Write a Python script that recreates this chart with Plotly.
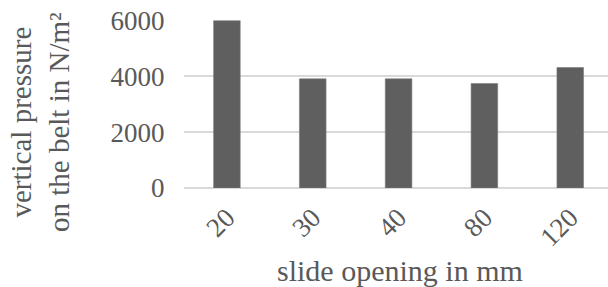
import plotly.graph_objects as go

categories = ["20", "30", "40", "80", "120"]
pressure = [6000, 3915, 3915, 3745, 4320]
y_ticks = [0, 2000, 4000, 6000]

FONT = "Liberation Serif, Times New Roman, serif"
GRAY = "#595959"
FS_TICK = 27
FS_TITLE = 29

fig = go.Figure(go.Bar(
    x=categories, y=pressure,
    marker=dict(color="#5f5f5f", line=dict(color="#7a7a7a", width=0.6)),
    width=0.31,
))

fig.update_layout(
    width=608, height=287,
    margin=dict(l=184, r=0, t=20, b=99, autoexpand=False),
    paper_bgcolor="white", plot_bgcolor="white",
    font=dict(family=FONT, size=FS_TICK, color=GRAY),
    showlegend=False,
    xaxis=dict(
        type="category", range=[-0.5, 4.44], automargin=False,
        tickangle=-45, ticks="outside", ticklen=2, tickcolor="rgba(0,0,0,0)",
        showgrid=False, showline=False, zeroline=False,
        tickfont=dict(family=FONT, size=FS_TICK, color=GRAY),
    ),
    yaxis=dict(
        range=[0, 6025], tickvals=y_ticks, automargin=False,
        ticks="outside", ticklen=13, tickcolor="rgba(0,0,0,0)",
        showgrid=True, gridcolor="#d9d9d9", gridwidth=2,
        zeroline=True, zerolinecolor="#d9d9d9", zerolinewidth=2,
        showline=False,
        tickfont=dict(family=FONT, size=FS_TICK, color=GRAY),
    ),
    annotations=[
        dict(text="vertical pressure<br>on the belt in N/m²", textangle=-90,
             xref="paper", yref="paper", x=(40 - 184) / 424, y=(287 - 99 - 122) / 168,
             xanchor="center", yanchor="middle", showarrow=False,
             font=dict(family=FONT, size=FS_TITLE, color=GRAY)),
        dict(text="slide opening in mm",
             xref="paper", yref="paper", x=(400 - 184) / 424, y=-(270 - 188) / 168,
             xanchor="center", yanchor="middle", showarrow=False,
             font=dict(family=FONT, size=30, color=GRAY)),
    ],
)

fig.write_html("out.html", config={"displayModeBar": False},
               post_script="document.body.style.margin='0';document.body.style.overflow='hidden';")
